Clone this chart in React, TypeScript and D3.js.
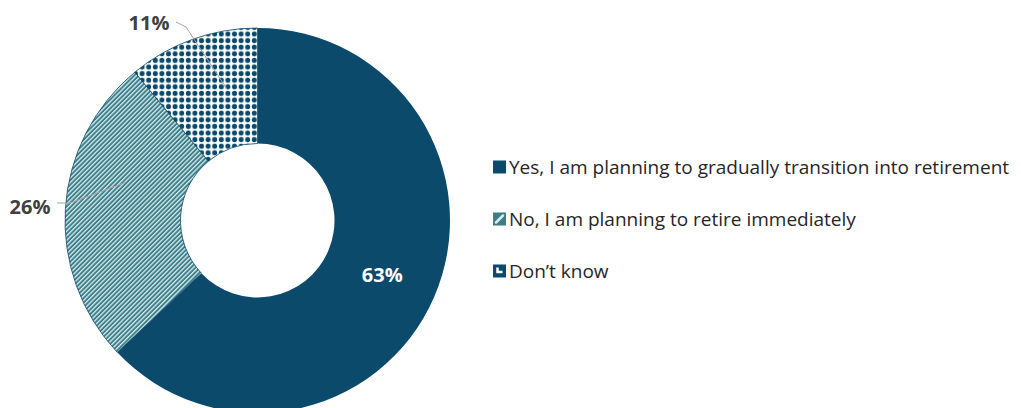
import React from "react";
import * as d3 from "d3";

const categories = [
  "Yes, I am planning to gradually transition into retirement",
  "No, I am planning to retire immediately",
  "Don\u2019t know",
];
const values = [63, 26, 11];
const labels = ["63%", "26%", "11%"];

const W = 1021;
const H = 408;
const cx = 257.5;
const cy = 220.5;
const outerR = 192.5;
const innerR = 77;

const NAVY = "#0b4a6b";
const TEAL = "#3e7c87";

export default function App() {
  const pie = d3.pie<number>().sort(null).value((d) => d)(values);
  const arc = d3.arc<d3.PieArcDatum<number>>().innerRadius(innerR).outerRadius(outerR);
  const fills = [NAVY, "url(#stripes)", "url(#dots)"];
  const legendFills = [NAVY, TEAL, NAVY];
  const legendY = d3.scalePoint<string>().domain(categories).range([167, 271]);
  const font = "'Open Sans', 'Noto Sans', sans-serif";

  const mid = (d: d3.PieArcDatum<number>) => (d.startAngle + d.endAngle) / 2;
  const pt = (a: number, r: number) => [cx + r * Math.sin(a), cy - r * Math.cos(a)];

  const inner63 = pt(mid(pie[0]), 136);
  const p26 = pt(mid(pie[1]) + 0.22, 137);
  const p11 = pt(mid(pie[2]) + 0.12, 134);

  return (
    <svg width={W} height={H} style={{ position: "absolute", left: 0, top: 0 }}>
      <defs>
        <pattern id="stripes" patternUnits="userSpaceOnUse" width="3.2" height="3.2" patternTransform="rotate(45)">
          <rect width="3.2" height="3.2" fill={TEAL} />
          <rect x="0" y="0" width="1.3" height="3.2" fill="#d4eef0" />
        </pattern>
        <pattern id="dots" patternUnits="userSpaceOnUse" width="6.6" height="6.6" x={cx} y="28">
          <rect width="6.6" height="6.6" fill="#ffffff" />
          <circle cx="3.3" cy="3.3" r="2.5" fill={NAVY} />
        </pattern>
      </defs>
      <g transform={`translate(${cx},${cy})`}>
        {pie.map((d, i) => (
          <path key={i} d={arc(d) || ""} fill={fills[i]} stroke={NAVY} strokeWidth={i === 0 ? 0 : 0.8} />
        ))}
      </g>
      <polyline
        points={`57,203 70,203 ${p26[0]},${p26[1]}`}
        fill="none"
        stroke="#a6a6a6"
        strokeWidth={1}
      />
      <polyline
        points={`176,22 186,27 ${p11[0]},${p11[1]}`}
        fill="none"
        stroke="#a6a6a6"
        strokeWidth={1}
      />
      <text x={149} y={22} fontFamily={font} fontWeight="bold" fontSize={20} fill="#404040" textAnchor="middle" dominantBaseline="central">
        {labels[2]}
      </text>
      <text x={30} y={206} fontFamily={font} fontWeight="bold" fontSize={20} fill="#404040" textAnchor="middle" dominantBaseline="central">
        {labels[1]}
      </text>
      <text x={inner63[0]} y={inner63[1]} fontFamily={font} fontWeight="bold" fontSize={20} fill="#ffffff" textAnchor="middle" dominantBaseline="central">
        {labels[0]}
      </text>
      {categories.map((c, i) => {
        const y = legendY(c) as number;
        return (
          <g key={c}>
            <rect x={493} y={y - 6.5} width={13} height={13} fill={legendFills[i]} />
            {i === 1 && (
              <path d={`M${496},${y + 3.5} L${503},${y - 3.5}`} stroke="#d4eef0" strokeWidth={2.5} strokeLinecap="round" />
            )}
            {i === 2 && (
              <path d={`M${497.5},${y - 3.5} V${y + 1} H${502.5}`} fill="none" stroke="#ffffff" strokeWidth={2.5} />
            )}
            <text x={509} y={y} fontFamily={font} fontSize={19} fill="#262626" dominantBaseline="central">
              {c}
            </text>
          </g>
        );
      })}
    </svg>
  );
}
